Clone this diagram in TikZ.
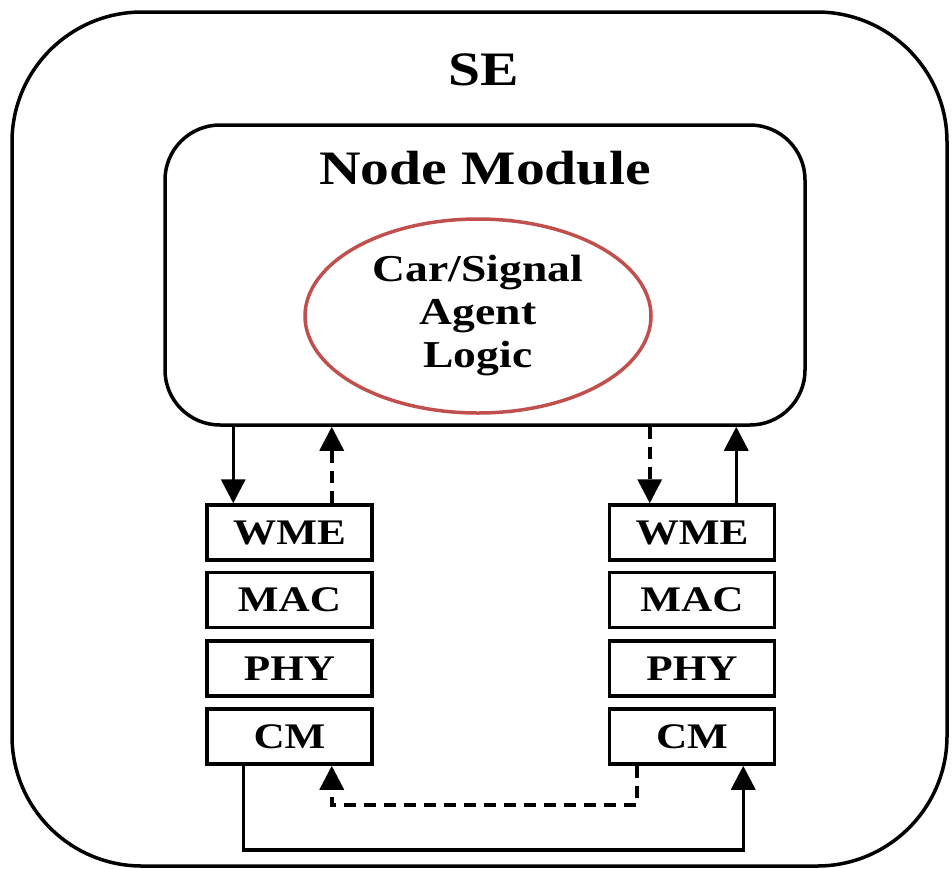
\documentclass[tikz,border=0pt]{standalone}
\usepackage{fontspec}
\setmainfont{Liberation Serif}[FakeStretch=1.2]
\usetikzlibrary{arrows.meta,shapes.geometric,calc}
\definecolor{agentred}{RGB}{192,80,77}
\begin{document}
\begin{tikzpicture}[x=1pt,y=-1pt,
  lay/.style={draw,line width=3.5pt,minimum width=165pt,minimum height=55pt,inner sep=0pt,font=\fontsize{36}{40}\selectfont\bfseries},
  conn/.style={line width=3.5pt,-{Triangle[length=24pt,width=24pt]}},
  dconn/.style={conn,dash pattern=on 12pt off 8pt}]
\useasboundingbox (0,0) rectangle (952,868);
\draw[line width=3.5pt,rounded corners=130pt] (12,12) rectangle (947,866);
\node[font=\fontsize{48}{52}\selectfont\bfseries] (se) at (484,70) {SE};
\node[draw,line width=3.5pt,rounded corners=55pt,minimum width=640pt,minimum height=300pt] (module) at (485,275) {};
\node[font=\fontsize{48}{52}\selectfont\bfseries] (title) at (485,168) {Node Module};
\node[draw=agentred,line width=3.5pt,ellipse,minimum width=346pt,minimum height=194pt,inner sep=0pt,
  align=center,font=\fontsize{38}{43}\selectfont\bfseries] (agent) at (478,316) {Car/Signal\\Agent\\Logic};
% left stack
\node[lay] (lwme) at (289.5,532.5) {WME};
\node[lay] (lmac) at (289.5,600) {MAC};
\node[lay] (lphy) at (289.5,668.5) {PHY};
\node[lay] (lcm) at (289.5,736.5) {CM};
% right stack
\node[lay] (rwme) at (692,532.5) {WME};
\node[lay] (rmac) at (692,600) {MAC};
\node[lay] (rphy) at (692,668.5) {PHY};
\node[lay] (rcm) at (692,736.5) {CM};
% module <-> WME
\draw[conn] ([xshift=28pt]lwme.north west |- module.south) -- ([xshift=28pt]lwme.north west);
\draw[dconn] ([xshift=-42pt]lwme.north east) -- ([xshift=-42pt]lwme.north east |- module.south);
\draw[dconn] ([xshift=42pt]rwme.north west |- module.south) -- ([xshift=42pt]rwme.north west);
\draw[conn] ([xshift=-40pt]rwme.north east) -- ([xshift=-40pt]rwme.north east |- module.south);
% CM <-> CM
\coordinate (ls) at ([xshift=38pt]lcm.south west);
\coordinate (rs) at ([xshift=-33pt]rcm.south east);
\coordinate (rd) at ([xshift=29pt]rcm.south west);
\coordinate (ld) at ([xshift=-42pt]lcm.south east);
\coordinate (b1) at ($(ls)+(0,84)$);
\coordinate (d1) at ($(rd)+(0,39)$);
\draw[conn] (ls) -- (b1) -- (b1 -| rs) -- (rs);
\draw[dconn] (rd) -- (d1) -- (d1 -| ld) -- (ld);
\end{tikzpicture}
\end{document}
